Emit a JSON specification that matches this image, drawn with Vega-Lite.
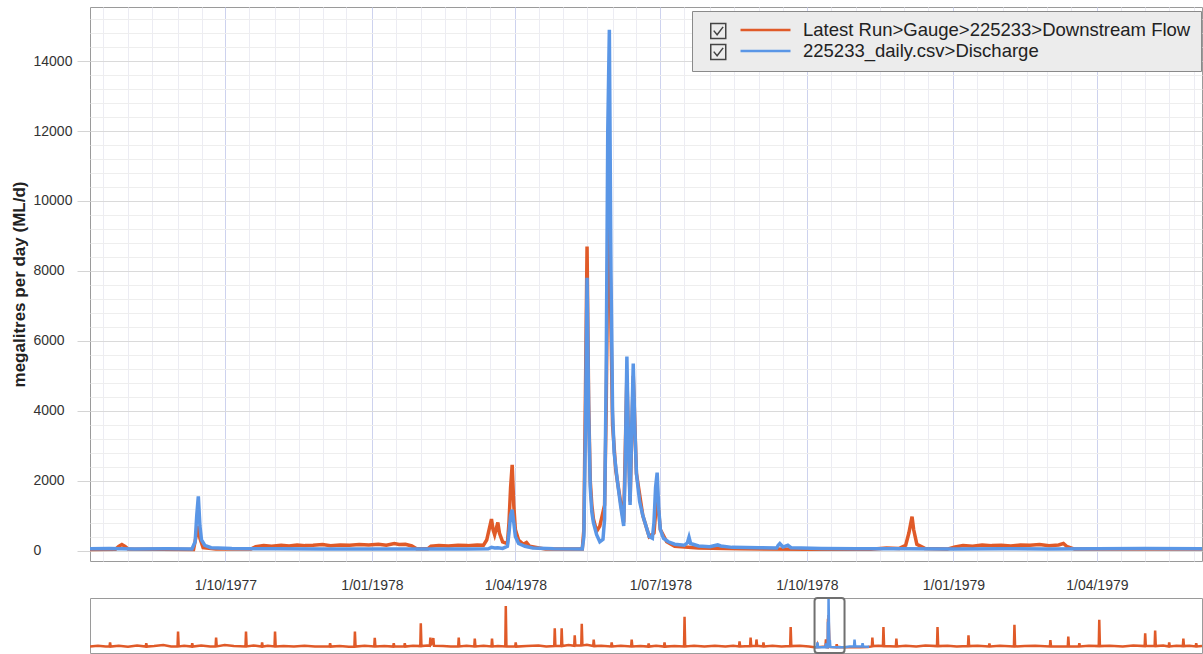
{
"$schema": "https://vega.github.io/schema/vega-lite/v6.json",
"padding": {"left": 9, "top": 6, "right": 0, "bottom": 0},
"background": "white",
"spacing": 3,
"config": {"view": {"stroke": "#9a9a9a", "strokeWidth": 1}, "font": "Liberation Sans", "axis": {"labelFont": "Liberation Sans", "titleFont": "Liberation Sans"}},
"datasets": {
"model": [
{"date":"1977-07-08","flow":30},{"date":"1977-07-24","flow":35},{"date":"1977-07-26","flow":120},{"date":"1977-07-28","flow":170},{"date":"1977-07-30","flow":120},{"date":"1977-08-01","flow":40},{"date":"1977-09-11","flow":30},{"date":"1977-09-13","flow":500},{"date":"1977-09-14","flow":700},{"date":"1977-09-15","flow":350},{"date":"1977-09-17","flow":80},{"date":"1977-09-25","flow":40},{"date":"1977-10-17","flow":40},
{"date":"1977-10-20","flow":110},{"date":"1977-10-25","flow":140},{"date":"1977-10-30","flow":120},{"date":"1977-11-05","flow":150},{"date":"1977-11-10","flow":130},{"date":"1977-11-15","flow":160},{"date":"1977-11-20","flow":140},{"date":"1977-11-25","flow":150},{"date":"1977-12-01","flow":170},{"date":"1977-12-06","flow":140},{"date":"1977-12-12","flow":160},{"date":"1977-12-18","flow":150},{"date":"1977-12-24","flow":170},{"date":"1977-12-30","flow":160},{"date":"1978-01-05","flow":180},{"date":"1978-01-10","flow":150},{"date":"1978-01-15","flow":200},{"date":"1978-01-18","flow":170},{"date":"1978-01-22","flow":180},{"date":"1978-01-26","flow":130},{"date":"1978-01-29","flow":50},{"date":"1978-02-05","flow":50},{"date":"1978-02-07","flow":120},{"date":"1978-02-12","flow":140},{"date":"1978-02-18","flow":130},{"date":"1978-02-24","flow":150},{"date":"1978-03-02","flow":140},{"date":"1978-03-08","flow":160},{"date":"1978-03-12","flow":150},{"date":"1978-03-14","flow":300},{"date":"1978-03-16","flow":700},{"date":"1978-03-17","flow":900},{"date":"1978-03-18","flow":600},{"date":"1978-03-19","flow":450},{"date":"1978-03-21","flow":800},{"date":"1978-03-22","flow":500},{"date":"1978-03-24","flow":250},{"date":"1978-03-27","flow":200},{"date":"1978-03-28","flow":800},{"date":"1978-03-29","flow":1800},{"date":"1978-03-30","flow":2450},{"date":"1978-03-31","flow":1300},{"date":"1978-04-01","flow":600},{"date":"1978-04-03","flow":300},{"date":"1978-04-06","flow":180},{"date":"1978-04-08","flow":230},{"date":"1978-04-10","flow":120},{"date":"1978-04-20","flow":40},
{"date":"1978-05-13","flow":40},{"date":"1978-05-14","flow":600},{"date":"1978-05-15","flow":4500},{"date":"1978-05-16","flow":8700},{"date":"1978-05-17","flow":4200},{"date":"1978-05-18","flow":2000},{"date":"1978-05-19","flow":1300},{"date":"1978-05-20","flow":900},{"date":"1978-05-22","flow":550},{"date":"1978-05-24","flow":700},{"date":"1978-05-26","flow":1100},{"date":"1978-05-27","flow":1300},{"date":"1978-05-28","flow":4000},{"date":"1978-05-29","flow":8500},{"date":"1978-05-30","flow":9800},{"date":"1978-05-31","flow":6500},{"date":"1978-06-01","flow":3600},{"date":"1978-06-03","flow":2300},{"date":"1978-06-06","flow":1400},{"date":"1978-06-08","flow":800},{"date":"1978-06-10","flow":5000},{"date":"1978-06-12","flow":1400},{"date":"1978-06-14","flow":5000},{"date":"1978-06-16","flow":2200},{"date":"1978-06-20","flow":1000},{"date":"1978-06-24","flow":400},{"date":"1978-06-27","flow":500},{"date":"1978-06-29","flow":1600},{"date":"1978-07-01","flow":600},{"date":"1978-07-05","flow":250},{"date":"1978-07-10","flow":120},{"date":"1978-07-25","flow":70},{"date":"1978-08-20","flow":50},{"date":"1978-10-01","flow":35},{"date":"1978-11-10","flow":35},{"date":"1978-11-20","flow":70},{"date":"1978-11-28","flow":60},{"date":"1978-12-02","flow":150},{"date":"1978-12-04","flow":500},{"date":"1978-12-06","flow":970},{"date":"1978-12-07","flow":600},{"date":"1978-12-09","flow":180},{"date":"1978-12-14","flow":60},{"date":"1978-12-28","flow":40},
{"date":"1979-01-02","flow":100},{"date":"1979-01-07","flow":140},{"date":"1979-01-13","flow":120},{"date":"1979-01-19","flow":160},{"date":"1979-01-25","flow":140},{"date":"1979-01-31","flow":150},{"date":"1979-02-06","flow":130},{"date":"1979-02-12","flow":160},{"date":"1979-02-18","flow":150},{"date":"1979-02-24","flow":170},{"date":"1979-03-02","flow":140},{"date":"1979-03-08","flow":160},{"date":"1979-03-11","flow":200},{"date":"1979-03-13","flow":120},{"date":"1979-03-18","flow":40},{"date":"1979-06-06","flow":40}
],
"obs": [
{"date":"1977-07-08","flow":50},{"date":"1977-07-20","flow":55},{"date":"1977-08-05","flow":45},{"date":"1977-08-25","flow":50},{"date":"1977-09-10","flow":45},{"date":"1977-09-12","flow":250},{"date":"1977-09-13","flow":1000},{"date":"1977-09-14","flow":1550},{"date":"1977-09-15","flow":700},{"date":"1977-09-16","flow":300},{"date":"1977-09-18","flow":150},{"date":"1977-09-22","flow":80},{"date":"1977-10-05","flow":55},{"date":"1977-11-01","flow":50},{"date":"1977-12-01","flow":45},{"date":"1978-01-01","flow":45},{"date":"1978-02-01","flow":40},{"date":"1978-03-01","flow":40},{"date":"1978-03-15","flow":50},{"date":"1978-03-17","flow":90},{"date":"1978-03-19","flow":70},{"date":"1978-03-21","flow":80},{"date":"1978-03-24","flow":60},{"date":"1978-03-27","flow":120},{"date":"1978-03-28","flow":500},{"date":"1978-03-29","flow":1000},{"date":"1978-03-30","flow":1170},{"date":"1978-03-31","flow":800},{"date":"1978-04-01","flow":400},{"date":"1978-04-03","flow":200},{"date":"1978-04-07","flow":120},{"date":"1978-04-12","flow":70},{"date":"1978-04-25","flow":50},{"date":"1978-05-13","flow":45},
{"date":"1978-05-14","flow":400},{"date":"1978-05-15","flow":3500},{"date":"1978-05-16","flow":7800},{"date":"1978-05-17","flow":4000},{"date":"1978-05-18","flow":1800},{"date":"1978-05-19","flow":1100},{"date":"1978-05-20","flow":800},{"date":"1978-05-22","flow":450},{"date":"1978-05-24","flow":250},{"date":"1978-05-26","flow":320},{"date":"1978-05-27","flow":900},{"date":"1978-05-28","flow":5000},{"date":"1978-05-29","flow":12000},{"date":"1978-05-30","flow":14900},{"date":"1978-05-31","flow":8000},{"date":"1978-06-01","flow":4000},{"date":"1978-06-02","flow":2800},{"date":"1978-06-04","flow":2000},{"date":"1978-06-06","flow":1300},{"date":"1978-06-08","flow":700},{"date":"1978-06-09","flow":2500},{"date":"1978-06-10","flow":5550},{"date":"1978-06-11","flow":3000},{"date":"1978-06-12","flow":1300},{"date":"1978-06-13","flow":3500},{"date":"1978-06-14","flow":5350},{"date":"1978-06-15","flow":3500},{"date":"1978-06-16","flow":2200},{"date":"1978-06-18","flow":1400},{"date":"1978-06-20","flow":1000},{"date":"1978-06-22","flow":700},{"date":"1978-06-24","flow":400},{"date":"1978-06-26","flow":350},{"date":"1978-06-27","flow":800},{"date":"1978-06-28","flow":1800},{"date":"1978-06-29","flow":2230},{"date":"1978-06-30","flow":1200},{"date":"1978-07-01","flow":600},{"date":"1978-07-03","flow":350},{"date":"1978-07-06","flow":250},{"date":"1978-07-10","flow":180},{"date":"1978-07-16","flow":150},{"date":"1978-07-18","flow":220},{"date":"1978-07-19","flow":380},{"date":"1978-07-20","flow":200},{"date":"1978-07-25","flow":130},{"date":"1978-08-01","flow":110},{"date":"1978-08-06","flow":160},{"date":"1978-08-08","flow":130},{"date":"1978-08-15","flow":90},{"date":"1978-09-01","flow":80},{"date":"1978-09-12","flow":70},{"date":"1978-09-13","flow":150},{"date":"1978-09-14","flow":200},{"date":"1978-09-16","flow":100},{"date":"1978-09-19","flow":150},{"date":"1978-09-21","flow":80},{"date":"1978-10-10","flow":60},{"date":"1978-11-01","flow":50},{"date":"1978-12-01","flow":50},{"date":"1979-01-01","flow":45},{"date":"1979-02-01","flow":50},{"date":"1979-03-01","flow":45},{"date":"1979-04-01","flow":50},{"date":"1979-05-01","flow":55},{"date":"1979-06-06","flow":50}
],
"checks": [{"item":"a"},{"item":"b"}],
"win": [{"start":"1977-07-08","end":"1979-06-06"}],
"navO": [
{"date":"1931-05-01","v":300},{"date":"1931-11-01","v":500},{"date":"1932-05-01","v":250},{"date":"1932-07-28","v":250},{"date":"1932-08-10","v":1500},{"date":"1932-08-25","v":250},{"date":"1933-03-01","v":500},{"date":"1933-10-01","v":200},{"date":"1934-05-01","v":600},{"date":"1934-11-18","v":250},{"date":"1934-12-01","v":1300},{"date":"1934-12-15","v":250},{"date":"1935-06-01","v":400},{"date":"1936-01-01","v":700},{"date":"1936-07-01","v":300},{"date":"1936-11-28","v":300},{"date":"1936-12-10","v":4800},{"date":"1936-12-25","v":300},{"date":"1937-05-01","v":500},{"date":"1937-10-24","v":250},{"date":"1937-11-05","v":1300},{"date":"1937-11-20","v":250},{"date":"1938-06-01","v":600},{"date":"1939-01-01","v":300},{"date":"1939-05-03","v":300},{"date":"1939-05-15","v":3000},{"date":"1939-05-30","v":300},{"date":"1939-12-01","v":700},{"date":"1940-07-01","v":400},{"date":"1941-03-29","v":300},{"date":"1941-04-10","v":4800},{"date":"1941-04-25","v":300},{"date":"1941-10-01","v":600},{"date":"1942-04-08","v":250},{"date":"1942-04-20","v":1500},{"date":"1942-05-05","v":250},{"date":"1942-09-01","v":500},{"date":"1943-02-03","v":300},{"date":"1943-02-15","v":4800},{"date":"1943-03-02","v":300},{"date":"1943-09-01","v":400},{"date":"1944-05-01","v":300},{"date":"1945-01-01","v":500},{"date":"1945-09-01","v":250},{"date":"1946-08-08","v":250},{"date":"1946-08-20","v":1300},{"date":"1946-09-04","v":250},{"date":"1947-04-01","v":400},{"date":"1947-11-01","v":200},{"date":"1948-03-08","v":250},{"date":"1948-03-20","v":4800},{"date":"1948-04-04","v":250},{"date":"1948-11-01","v":500},{"date":"1949-06-13","v":300},{"date":"1949-06-25","v":2900},{"date":"1949-07-10","v":300},{"date":"1950-02-01","v":400},{"date":"1950-08-29","v":250},{"date":"1950-09-10","v":1300},{"date":"1950-09-25","v":250},{"date":"1951-05-13","v":250},{"date":"1951-05-25","v":1300},{"date":"1951-06-09","v":250},{"date":"1951-12-01","v":500},{"date":"1952-05-20","v":400},{"date":"1952-06-01","v":7300},{"date":"1952-06-16","v":400},{"date":"1952-11-01","v":600},{"date":"1952-12-29","v":500},{"date":"1953-01-10","v":3000},{"date":"1953-01-25","v":600},{"date":"1953-03-20","v":2800},{"date":"1953-04-04","v":500},{"date":"1953-11-01","v":400},{"date":"1954-05-01","v":300},{"date":"1954-10-20","v":300},{"date":"1954-11-01","v":3000},{"date":"1954-11-16","v":300},{"date":"1955-05-01","v":500},{"date":"1955-10-29","v":300},{"date":"1955-11-10","v":2700},{"date":"1955-11-25","v":300},{"date":"1956-06-01","v":500},{"date":"1956-12-03","v":300},{"date":"1956-12-15","v":2700},{"date":"1956-12-30","v":300},{"date":"1957-05-01","v":400},{"date":"1957-10-20","v":300},{"date":"1957-11-01","v":12600},{"date":"1957-11-16","v":300},{"date":"1958-06-08","v":250},{"date":"1958-06-20","v":1500},{"date":"1958-07-05","v":250},{"date":"1959-03-01","v":400},{"date":"1959-12-01","v":600},{"date":"1960-06-01","v":300},{"date":"1960-12-03","v":400},{"date":"1960-12-15","v":5800},{"date":"1960-12-30","v":400},{"date":"1961-05-13","v":400},{"date":"1961-05-25","v":5800},{"date":"1961-06-09","v":400},{"date":"1961-11-01","v":700},{"date":"1962-03-13","v":500},{"date":"1962-03-25","v":3700},{"date":"1962-04-09","v":600},{"date":"1962-08-24","v":600},{"date":"1962-09-05","v":7200},{"date":"1962-09-20","v":600},{"date":"1963-01-01","v":800},{"date":"1963-05-29","v":400},{"date":"1963-06-10","v":2400},{"date":"1963-06-25","v":400},{"date":"1963-12-01","v":500},{"date":"1964-07-20","v":300},{"date":"1964-08-01","v":1500},{"date":"1964-08-16","v":300},{"date":"1965-03-01","v":500},{"date":"1965-10-29","v":300},{"date":"1965-11-10","v":2400},{"date":"1965-11-25","v":300},{"date":"1966-06-01","v":400},{"date":"1966-11-28","v":250},{"date":"1966-12-10","v":1200},{"date":"1966-12-25","v":250},{"date":"1967-06-01","v":500},{"date":"1967-12-03","v":250},{"date":"1967-12-15","v":1500},{"date":"1967-12-30","v":250},{"date":"1968-08-01","v":400},{"date":"1969-03-13","v":300},{"date":"1969-03-25","v":9300},{"date":"1969-04-09","v":300},{"date":"1969-11-01","v":500},{"date":"1970-07-01","v":300},{"date":"1971-03-01","v":500},{"date":"1971-11-01","v":300},{"date":"1972-05-01","v":500},{"date":"1972-09-13","v":300},{"date":"1972-09-25","v":1850},{"date":"1972-10-10","v":300},{"date":"1973-05-29","v":400},{"date":"1973-06-10","v":3000},{"date":"1973-06-25","v":400},{"date":"1973-10-13","v":500},{"date":"1973-10-25","v":2400},{"date":"1973-11-09","v":500},{"date":"1974-03-24","v":300},{"date":"1974-04-05","v":1500},{"date":"1974-04-20","v":300},{"date":"1974-11-01","v":500},{"date":"1975-06-01","v":300},{"date":"1975-12-18","v":400},{"date":"1975-12-30","v":6150},{"date":"1976-01-14","v":400},{"date":"1976-08-01","v":500},{"date":"1977-03-01","v":300},{"date":"1977-07-08","v":30},{"date":"1977-09-01","v":50},{"date":"1977-09-14","v":700},{"date":"1977-09-28","v":50},{"date":"1978-03-18","v":300},{"date":"1978-03-30","v":2450},{"date":"1978-04-12","v":100},{"date":"1978-05-10","v":50},{"date":"1978-05-16","v":8700},{"date":"1978-05-23","v":600},{"date":"1978-05-30","v":9800},{"date":"1978-06-10","v":5000},{"date":"1978-06-20","v":800},{"date":"1978-07-10","v":100},{"date":"1978-11-25","v":60},{"date":"1978-12-06","v":970},{"date":"1978-12-20","v":50},{"date":"1979-02-01","v":150},{"date":"1979-04-01","v":40},{"date":"1979-10-01","v":80},{"date":"1980-06-01","v":80},{"date":"1980-12-01","v":100},{"date":"1981-03-03","v":300},{"date":"1981-03-15","v":3000},{"date":"1981-03-30","v":400},{"date":"1981-08-01","v":500},{"date":"1981-11-16","v":400},{"date":"1981-11-28","v":6150},{"date":"1981-12-13","v":400},{"date":"1982-09-13","v":300},{"date":"1982-09-25","v":2700},{"date":"1982-10-10","v":300},{"date":"1983-05-01","v":500},{"date":"1984-01-01","v":300},{"date":"1984-08-01","v":600},{"date":"1985-04-28","v":400},{"date":"1985-05-10","v":6150},{"date":"1985-05-25","v":400},{"date":"1986-01-01","v":500},{"date":"1986-08-01","v":300},{"date":"1987-04-19","v":400},{"date":"1987-05-01","v":3700},{"date":"1987-05-16","v":400},{"date":"1987-12-01","v":500},{"date":"1988-08-18","v":300},{"date":"1988-08-30","v":1200},{"date":"1988-09-14","v":300},{"date":"1989-05-01","v":500},{"date":"1990-03-24","v":300},{"date":"1990-04-05","v":6900},{"date":"1990-04-20","v":300},{"date":"1990-12-01","v":400},{"date":"1991-08-01","v":500},{"date":"1992-07-08","v":300},{"date":"1992-07-20","v":2200},{"date":"1992-08-04","v":300},{"date":"1993-08-29","v":300},{"date":"1993-09-10","v":3300},{"date":"1993-09-25","v":300},{"date":"1994-05-13","v":300},{"date":"1994-05-25","v":1300},{"date":"1994-06-09","v":300},{"date":"1995-01-01","v":500},{"date":"1995-08-20","v":400},{"date":"1995-09-01","v":8400},{"date":"1995-09-16","v":400},{"date":"1996-05-01","v":500},{"date":"1997-03-01","v":300},{"date":"1997-11-01","v":600},{"date":"1998-07-24","v":400},{"date":"1998-08-05","v":4300},{"date":"1998-08-20","v":400},{"date":"1999-03-13","v":400},{"date":"1999-03-25","v":5100},{"date":"1999-04-09","v":400},{"date":"1999-10-01","v":600},{"date":"2000-02-03","v":300},{"date":"2000-02-15","v":1500},{"date":"2000-03-01","v":300},{"date":"2000-08-01","v":500},{"date":"2000-12-29","v":400},{"date":"2001-01-10","v":2700},{"date":"2001-01-25","v":400},{"date":"2001-06-01","v":500},{"date":"2001-10-24","v":300},{"date":"2001-11-05","v":1300},{"date":"2001-11-20","v":300},{"date":"2002-03-20","v":400}
],
"navB": [
{"date":"1977-07-08","v":50},{"date":"1977-09-01","v":50},{"date":"1977-09-14","v":1550},{"date":"1977-09-28","v":50},{"date":"1978-03-18","v":60},{"date":"1978-03-30","v":1170},{"date":"1978-04-12","v":60},{"date":"1978-05-10","v":50},{"date":"1978-05-16","v":7800},{"date":"1978-05-23","v":300},{"date":"1978-05-30","v":14900},{"date":"1978-06-10","v":5550},{"date":"1978-06-20","v":800},{"date":"1978-06-29","v":2230},{"date":"1978-07-10","v":150},{"date":"1978-12-01","v":50},{"date":"1979-06-01","v":50},{"date":"1979-10-01","v":300},{"date":"1980-01-13","v":300},{"date":"1980-01-25","v":2400},{"date":"1980-02-09","v":300},{"date":"1980-07-18","v":250},{"date":"1980-07-30","v":1300},{"date":"1980-08-14","v":250},{"date":"1980-12-31","v":200}
]
},
"vconcat": [
{
"width": 1112, "height": 554,
"layer": [
{"data": {"name": "model"}, "mark": {"type": "line", "strokeWidth": 3.5, "clip": true},
 "encoding": {
  "x": {"field": "date", "type": "temporal",
   "scale": {"domain": [{"year":1977,"month":7,"date":8,"utc":true},{"year":1979,"month":6,"date":6,"utc":true}]},
   "axis": {"title": null, "ticks": false, "domain": false, "labelPadding": 17, "labelFontSize": 14, "labelColor": "#333", "labelOverlap": false, "labelFlush": false, "tickCount": 500,
    "values": [{"year":1977,"month":7,"date":16,"utc":true},{"year":1977,"month":8,"date":1,"utc":true},{"year":1977,"month":8,"date":16,"utc":true},{"year":1977,"month":9,"date":1,"utc":true},{"year":1977,"month":9,"date":16,"utc":true},{"year":1977,"month":10,"date":1,"utc":true},{"year":1977,"month":10,"date":16,"utc":true},{"year":1977,"month":11,"date":1,"utc":true},{"year":1977,"month":11,"date":16,"utc":true},{"year":1977,"month":12,"date":1,"utc":true},{"year":1977,"month":12,"date":16,"utc":true},
     {"year":1978,"month":1,"date":1,"utc":true},{"year":1978,"month":1,"date":16,"utc":true},{"year":1978,"month":2,"date":1,"utc":true},{"year":1978,"month":2,"date":16,"utc":true},{"year":1978,"month":3,"date":1,"utc":true},{"year":1978,"month":3,"date":16,"utc":true},{"year":1978,"month":4,"date":1,"utc":true},{"year":1978,"month":4,"date":16,"utc":true},{"year":1978,"month":5,"date":1,"utc":true},{"year":1978,"month":5,"date":16,"utc":true},{"year":1978,"month":6,"date":1,"utc":true},{"year":1978,"month":6,"date":16,"utc":true},{"year":1978,"month":7,"date":1,"utc":true},{"year":1978,"month":7,"date":16,"utc":true},{"year":1978,"month":8,"date":1,"utc":true},{"year":1978,"month":8,"date":16,"utc":true},{"year":1978,"month":9,"date":1,"utc":true},{"year":1978,"month":9,"date":16,"utc":true},{"year":1978,"month":10,"date":1,"utc":true},{"year":1978,"month":10,"date":16,"utc":true},{"year":1978,"month":11,"date":1,"utc":true},{"year":1978,"month":11,"date":16,"utc":true},{"year":1978,"month":12,"date":1,"utc":true},{"year":1978,"month":12,"date":16,"utc":true},
     {"year":1979,"month":1,"date":1,"utc":true},{"year":1979,"month":1,"date":16,"utc":true},{"year":1979,"month":2,"date":1,"utc":true},{"year":1979,"month":2,"date":16,"utc":true},{"year":1979,"month":3,"date":1,"utc":true},{"year":1979,"month":3,"date":16,"utc":true},{"year":1979,"month":4,"date":1,"utc":true},{"year":1979,"month":4,"date":16,"utc":true},{"year":1979,"month":5,"date":1,"utc":true},{"year":1979,"month":5,"date":16,"utc":true},{"year":1979,"month":6,"date":1,"utc":true}],
    "labelExpr": "(utcmonth(datum.value) % 3 == 0 && utcdate(datum.value) == 1) ? utcFormat(datum.value, '%-d/%m/%Y') : ''",
    "gridColor": {"condition": {"test": "utcmonth(datum.value) % 3 == 0 && utcdate(datum.value) == 1", "value": "#cdd2ee"}, "value": "#ececf3"}
   }},
  "y": {"field": "flow", "type": "quantitative",
   "scale": {"domain": [-300, 15550], "nice": false, "zero": false},
   "axis": {"title": "megalitres per day (ML/d)", "titleFontSize": 17, "titleFontWeight": "bold", "titleColor": "#222", "titlePadding": 5, "tickCount": 500,
    "values": [0,400,800,1200,1600,2000,2400,2800,3200,3600,4000,4400,4800,5200,5600,6000,6400,6800,7200,7600,8000,8400,8800,9200,9600,10000,10400,10800,11200,11600,12000,12400,12800,13200,13600,14000,14400,14800,15200],
    "format": "d", "labelExpr": "datum.value % 2000 == 0 ? datum.label : ''", "labelOverlap": false,
    "labelAlign": "left", "labelBaseline": "middle", "labelPadding": 44, "labelFontSize": 14, "labelColor": "#333", "domain": false, "tickSize": 13,
    "tickColor": {"condition": {"test": "datum.value % 2000 == 0", "value": "#d4d4d4"}, "value": "transparent"},
    "gridColor": {"condition": {"test": "datum.value % 2000 == 0", "value": "#dadada"}, "value": "#eeeeee"}
   }},
  "color": {"datum": "Latest Run>Gauge>225233>Downstream Flow", "type": "nominal",
   "scale": {"domain": ["Latest Run>Gauge>225233>Downstream Flow", "225233_daily.csv>Discharge"], "range": ["#E05A28", "#5A96E6"]},
   "legend": {"orient": "none", "legendX": 602, "legendY": 4, "title": null, "symbolType": "M-0.149,0H1", "symbolSize": 7569, "symbolStrokeWidth": 2.5, "clipHeight": 18, "rowPadding": 2, "labelFont": "Liberation Sans", "labelFontSize": 18.5, "labelColor": "#222", "labelOffset": 11, "labelLimit": 0, "padding": 10, "fillColor": "#ececec", "strokeColor": "#8a8a8a", "zindex": 0}
  }
 }},
{"data": {"name": "obs"}, "mark": {"type": "line", "strokeWidth": 3.5, "clip": true},
 "encoding": {
  "x": {"field": "date", "type": "temporal"},
  "y": {"field": "flow", "type": "quantitative"},
  "color": {"datum": "225233_daily.csv>Discharge", "type": "nominal"}
 }},
{"data": {"name": "checks"}, "mark": {"type": "point", "opacity": 0},
 "encoding": {
  "shape": {"field": "item", "type": "nominal",
   "scale": {"domain": ["a", "b"], "range": ["M-1,-1H1V1H-1Z M-0.6,-0.05L-0.15,0.5L0.65,-0.55", "M-1,-1H1V1H-1Z M-0.6,-0.05L-0.15,0.5L0.65,-0.55"]},
   "legend": {"orient": "none", "legendX": 619, "legendY": 15, "title": null, "labelExpr": "''", "symbolSize": 225, "symbolStrokeWidth": 1.5, "symbolStrokeColor": "#444", "symbolFillColor": "#ffffff", "symbolOpacity": 1, "clipHeight": 18, "rowPadding": 2, "labelFontSize": 18.5, "padding": 0, "zindex": 1}
  }
 }}
]
},
{
"width": 1112, "height": 55,
"layer": [
{"data": {"name": "win"}, "mark": {"type": "rect", "fill": "#ffffff", "cornerRadius": 3},
 "encoding": {
  "x": {"field": "start", "type": "temporal", "axis": null,
   "scale": {"domain": [{"year":1931,"month":5,"date":1,"utc":true},{"year":2002,"month":3,"date":20,"utc":true}]}},
  "x2": {"field": "end"},
  "y": {"datum": 15000, "type": "quantitative", "axis": null, "scale": {"domain": [-1700, 15000], "nice": false, "zero": false}},
  "y2": {"datum": -1700}
 }},
{"data": {"name": "navO"}, "mark": {"type": "line", "stroke": "#E05A28", "strokeWidth": 2.5, "clip": true},
 "encoding": {"x": {"field": "date", "type": "temporal"}, "y": {"field": "v", "type": "quantitative"}}},
{"data": {"name": "navB"}, "mark": {"type": "line", "stroke": "#5A96E6", "strokeWidth": 2.5, "clip": true},
 "encoding": {"x": {"field": "date", "type": "temporal"}, "y": {"field": "v", "type": "quantitative"}}},
{"data": {"name": "win"}, "mark": {"type": "rect", "fill": null, "fillOpacity": 0, "stroke": "#707070", "strokeWidth": 2, "cornerRadius": 3},
 "encoding": {
  "x": {"field": "start", "type": "temporal"},
  "x2": {"field": "end"},
  "y": {"datum": 15000, "type": "quantitative"},
  "y2": {"datum": -1700}
 }}
]
}
]
}
